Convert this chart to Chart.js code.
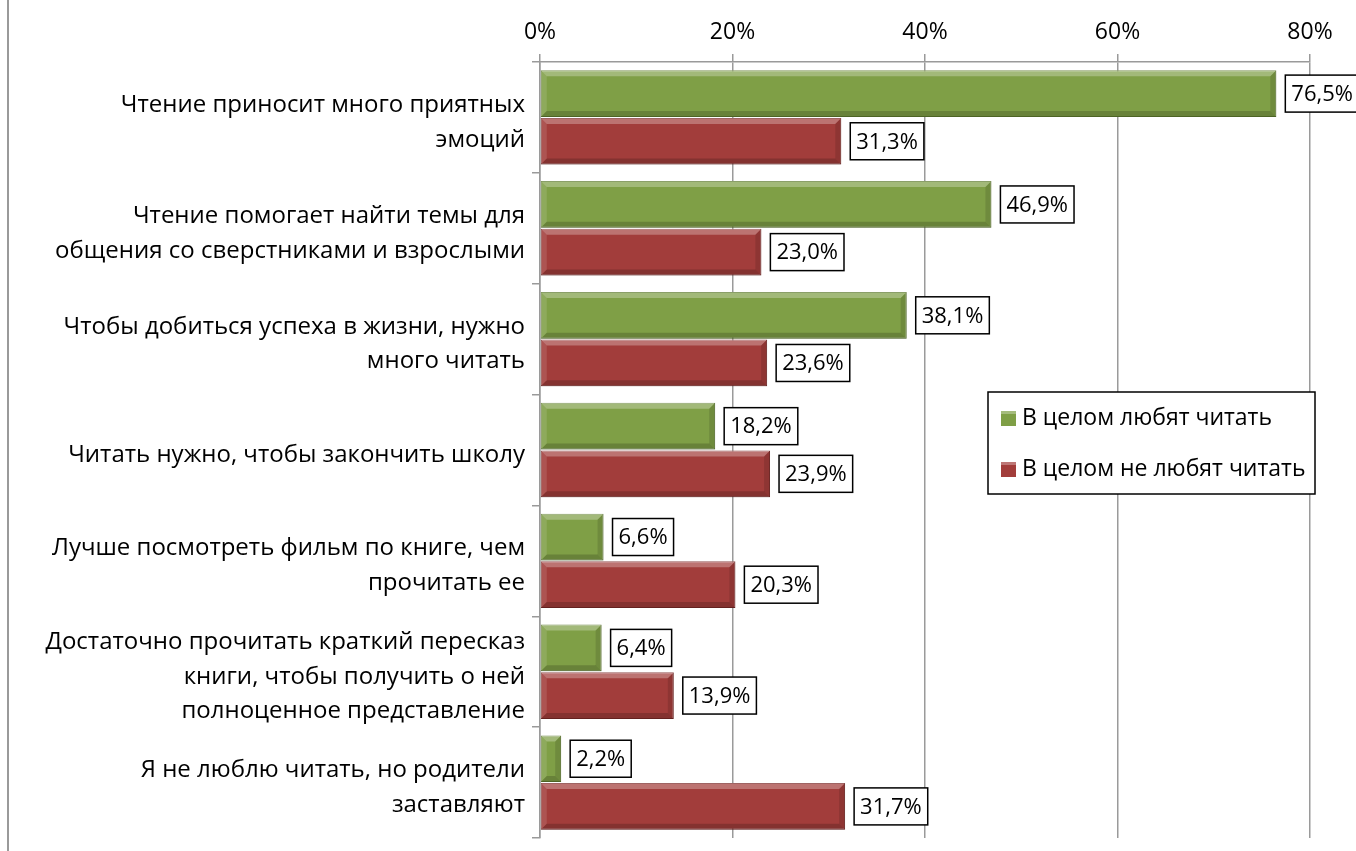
<!DOCTYPE html>
<html>
<head>
<meta charset="utf-8">
<script src="https://cdn.jsdelivr.net/npm/chart.js@4"></script>
<style>
  html, body { margin: 0; padding: 0; background: #fff; }
  #wrap { position: relative; width: 1356px; height: 851px; }
</style>
</head>
<body>
<div id="wrap"><canvas id="chart" width="1356" height="851"></canvas></div>
<script>
const categories = [
  ["Чтение приносит много приятных", "эмоций"],
  ["Чтение помогает найти темы для", "общения со сверстниками и взрослыми"],
  ["Чтобы добиться успеха в жизни, нужно", "много читать"],
  "Читать нужно, чтобы закончить школу",
  ["Лучше посмотреть фильм по книге, чем", "прочитать ее"],
  ["Достаточно прочитать краткий пересказ", "книги, чтобы получить о ней", "полноценное представление"],
  ["Я не люблю читать, но родители", "заставляют"]
];
const likeReading = [76.5, 46.9, 38.1, 18.2, 6.6, 6.4, 2.2];
const dislikeReading = [31.3, 23.0, 23.6, 23.9, 20.3, 13.9, 31.7];
const seriesNames = ["В целом любят читать", "В целом не любят читать"];
const xTicks = [0, 20, 40, 60, 80];

const FONT = "'Open Sans', sans-serif";
const fmt = (v) => v.toFixed(1).replace(".", ",") + "%";

// Excel-style bevel on each bar
const bevelPlugin = {
  id: "bevel",
  afterDatasetsDraw(chart) {
    const ctx = chart.ctx;
    chart.data.datasets.forEach((ds, i) => {
      chart.getDatasetMeta(i).data.forEach((bar) => {
        const p = bar.getProps(["x", "y", "base", "height"], true);
        const l = p.base, r = p.x, t = p.y - p.height / 2, b = p.y + p.height / 2;
        const e = Math.min(6, (r - l) / 2);
        ctx.save();
        ctx.fillStyle = "rgba(255,255,255,0.28)";
        ctx.beginPath();
        ctx.moveTo(l, t); ctx.lineTo(r, t); ctx.lineTo(r - e, t + e); ctx.lineTo(l + e, t + e);
        ctx.fill();
        ctx.fillStyle = "rgba(255,255,255,0.12)";
        ctx.beginPath();
        ctx.moveTo(l, t); ctx.lineTo(l + e, t + e); ctx.lineTo(l + e, b - e); ctx.lineTo(l, b);
        ctx.fill();
        ctx.fillStyle = "rgba(0,0,0,0.18)";
        ctx.beginPath();
        ctx.moveTo(l, b); ctx.lineTo(l + e, b - e); ctx.lineTo(r - e, b - e); ctx.lineTo(r, b);
        ctx.fill();
        ctx.fillStyle = "rgba(0,0,0,0.12)";
        ctx.beginPath();
        ctx.moveTo(r, t); ctx.lineTo(r, b); ctx.lineTo(r - e, b - e); ctx.lineTo(r - e, t + e);
        ctx.fill();
        ctx.restore();
      });
    });
  }
};

// boxed value labels to the right of the bars
const valueLabels = {
  id: "valueLabels",
  afterDatasetsDraw(chart) {
    const ctx = chart.ctx;
    ctx.save();
    ctx.font = "22px " + FONT;
    ctx.textBaseline = "middle";
    ctx.textAlign = "left";
    chart.data.datasets.forEach((ds, i) => {
      chart.getDatasetMeta(i).data.forEach((bar, j) => {
        const txt = fmt(ds.data[j]);
        const w = ctx.measureText(txt).width + 12;
        const h = 37;
        const x = bar.x + 9;
        const y = bar.y - h / 2;
        ctx.fillStyle = "#fff";
        ctx.fillRect(x, y, w, h);
        ctx.strokeStyle = "#000";
        ctx.lineWidth = 1.5;
        ctx.strokeRect(x, y, w, h);
        ctx.fillStyle = "#000";
        ctx.fillText(txt, x + 6, bar.y + 1);
      });
    });
    ctx.restore();
  }
};

// legend box inside the plot, plus the left frame line
const boxLegend = {
  id: "boxLegend",
  afterDraw(chart) {
    const ctx = chart.ctx;
    ctx.save();
    ctx.strokeStyle = "#9a9a9a";
    ctx.lineWidth = 2;
    ctx.beginPath();
    ctx.moveTo(8, 0); ctx.lineTo(8, 851);
    ctx.stroke();

    const bx = 988, by = 392, bw = 327, bh = 102;
    ctx.fillStyle = "#fff";
    ctx.fillRect(bx, by, bw, bh);
    ctx.strokeStyle = "#000";
    ctx.lineWidth = 1.5;
    ctx.strokeRect(bx, by, bw, bh);
    ctx.font = "23px " + FONT;
    ctx.textBaseline = "middle";
    const rows = [418, 469];
    chart.data.datasets.forEach((ds, i) => {
      ctx.fillStyle = ds.backgroundColor;
      ctx.fillRect(bx + 13, rows[i] - 7, 15, 15);
      ctx.fillStyle = "rgba(255,255,255,0.3)";
      ctx.fillRect(bx + 13, rows[i] - 7, 15, 3);
      ctx.fillStyle = "#000";
      ctx.fillText(seriesNames[i], bx + 34, rows[i]);
    });
    ctx.restore();
  }
};

new Chart(document.getElementById("chart").getContext("2d"), {
  type: "bar",
  data: {
    labels: categories,
    datasets: [
      {
        label: seriesNames[0],
        data: likeReading,
        backgroundColor: "#7f9f46",
        borderColor: "#5e7a2e",
        borderWidth: 1,
        borderSkipped: false
      },
      {
        label: seriesNames[1],
        data: dislikeReading,
        backgroundColor: "#a23d3b",
        borderColor: "#7a2927",
        borderWidth: 1,
        borderSkipped: false
      }
    ]
  },
  options: {
    indexAxis: "y",
    responsive: false,
    animation: false,
    categoryPercentage: 0.86,
    barPercentage: 0.98,
    layout: { padding: { left: 0, right: 46, top: 0, bottom: 13 } },
    plugins: {
      legend: { display: false },
      tooltip: { enabled: false }
    },
    scales: {
      x: {
        position: "top",
        min: 0,
        max: 80,
        afterBuildTicks(scale) {
          scale.ticks = xTicks.map((v) => ({ value: v }));
        },
        afterFit(scale) {
          scale.height = 62;
          scale.paddingLeft = 0;
          scale.paddingRight = 0;
        },
        ticks: {
          callback: (v) => v + "%",
          color: "#000",
          font: { family: FONT, size: 23 },
          padding: 8,
          maxRotation: 0
        },
        grid: { color: "#9a9a9a", lineWidth: 1.5, tickLength: 8 },
        border: { color: "#9a9a9a", width: 1.5 }
      },
      y: {
        afterFit(scale) {
          scale.width = 540;
          scale.paddingTop = 0;
          scale.paddingBottom = 0;
        },
        ticks: {
          autoSkip: false,
          color: "#000",
          font: { family: FONT, size: 24, lineHeight: 1.45 },
          padding: 7,
          labelOffset: 5,
          crossAlign: "near"
        },
        grid: {
          offset: true,
          drawOnChartArea: false,
          color: "#9a9a9a",
          lineWidth: 1.5,
          tickLength: 8
        },
        border: { color: "#9a9a9a", width: 1.5 }
      }
    }
  },
  plugins: [bevelPlugin, valueLabels, boxLegend]
});
</script>
</body>
</html>
